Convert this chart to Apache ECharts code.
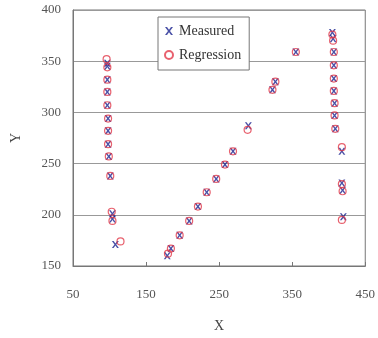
<!DOCTYPE html>
<html>
<head>
<meta charset="utf-8">
<script src="https://cdn.jsdelivr.net/npm/echarts@6/dist/echarts.min.js"></script>
<style>
html, body { margin: 0; padding: 0; background: #fff; }
#chart { width: 378px; height: 338px; }
</style>
</head>
<body>
<div id="chart"></div>
<script>
// 轴刻度
var xTicks = [50, 150, 250, 350, 450];
var yTicks = [150, 200, 250, 300, 350, 400];

// 实测值 [X, Y]
var measured = [
    [97, 348], [97, 345], [97, 332], [97, 320], [97, 307], [98, 294], [98, 282],
    [98, 269], [99, 257], [101, 238], [104, 201], [104, 196], [108, 171],
    [179, 160], [184, 167], [196, 180], [209, 194], [221, 208], [233, 222],
    [246, 235], [258, 249], [269, 262], [290, 287], [323, 322], [327, 330], [355, 359],
    [405, 378], [406, 372], [407, 359], [407, 346], [407, 333], [407, 321],
    [408, 309], [408, 297], [409, 284], [418, 262], [418, 231], [419, 224], [420, 198]
];
// 回归值 [X, Y]
var regression = [
    [96, 352], [97, 344], [97, 332], [97, 320], [97, 307], [98, 294], [98, 282],
    [98, 269], [99, 257], [101, 238], [103, 203], [104, 194], [115, 174],
    [180, 162], [184, 167], [196, 180], [209, 194], [221, 208], [233, 222],
    [246, 235], [258, 249], [269, 262], [289, 283], [323, 322], [327, 330], [355, 359],
    [405, 376], [406, 370], [407, 359], [407, 346], [407, 333], [407, 321],
    [408, 309], [408, 297], [409, 284], [418, 266], [418, 230], [419, 223], [418, 195]
];

var myChart = echarts.init(document.getElementById('chart'));
var font = 'Liberation Serif';

var option = {
    animation: false,
    backgroundColor: '#fff',
    grid: {
        left: 73,
        right: 12,
        top: 10,
        bottom: 66,
        show: true,
        borderColor: '#777',
        borderWidth: 1
    },
    legend: {
        orient: 'vertical',
        left: 158,
        top: 17,
        width: 88,
        padding: [7, 8, 8, 6],
        itemGap: 10,
        itemWidth: 10,
        itemHeight: 8,
        borderColor: '#777',
        borderWidth: 1,
        backgroundColor: '#fff',
        textStyle: { fontFamily: font, fontSize: 14, color: '#333' },
        data: ['Measured', 'Regression']
    },
    xAxis: {
        type: 'value',
        name: 'X',
        nameLocation: 'middle',
        nameGap: 53,
        nameTextStyle: { fontFamily: font, fontSize: 14, color: '#444' },
        min: xTicks[0],
        max: xTicks[xTicks.length - 1],
        interval: 100,
        axisLine: { show: true, lineStyle: { color: '#777' } },
        axisTick: { show: true, inside: true, length: 4, lineStyle: { color: '#777' } },
        axisLabel: { margin: 22, fontFamily: font, fontSize: 13, color: '#555' },
        splitLine: { show: false }
    },
    yAxis: {
        type: 'value',
        name: 'Y',
        nameLocation: 'middle',
        nameGap: 50,
        nameRotate: 90,
        nameTextStyle: { fontFamily: font, fontSize: 14, color: '#444' },
        min: yTicks[0],
        max: yTicks[yTicks.length - 1],
        interval: 50,
        axisLine: { show: true, lineStyle: { color: '#777' } },
        axisTick: { show: false },
        axisLabel: { margin: 12, fontFamily: font, fontSize: 13, color: '#555' },
        splitLine: { show: true, lineStyle: { color: '#999', width: 1 } }
    },
    series: [
        {
            name: 'Measured',
            type: 'scatter',
            symbol: 'path://M0,0 L2.5,0 L5,3.5 L7.5,0 L10,0 L6.3,5 L10,10 L7.5,10 L5,6.5 L2.5,10 L0,10 L3.7,5 Z',
            symbolSize: 7,
            itemStyle: { color: '#1c2490' },
            data: measured
        },
        {
            name: 'Regression',
            type: 'scatter',
            symbol: 'circle',
            symbolSize: 7,
            itemStyle: { color: 'rgba(0,0,0,0)', borderColor: '#e23a4a', borderWidth: 1.2 },
            data: regression
        }
    ]
};

myChart.setOption(option);
</script>
</body>
</html>
